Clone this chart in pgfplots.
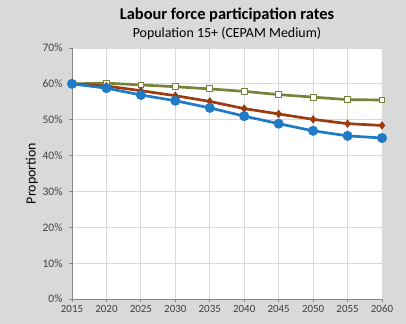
\documentclass[border=0pt]{standalone}
\usepackage{pgfplots}
\pgfplotsset{compat=1.18}
\usepackage{fontspec}
\setmainfont{Carlito}
\definecolor{bg}{HTML}{D9D9D9}
\definecolor{grn}{HTML}{76843A}
\definecolor{red}{HTML}{9C3A10}
\definecolor{blu}{HTML}{1F7BC6}
\definecolor{gridc}{HTML}{D9D9D9}
\definecolor{axc}{HTML}{868686}
\definecolor{txt}{HTML}{404040}
\begin{document}
\begin{tikzpicture}
\fill[bg] (-72bp,-25bp) rectangle (334bp,299bp);
\useasboundingbox (-72bp,-25bp) rectangle (334bp,299bp);
\begin{axis}[
  at={(0,0)}, anchor=south west,
  scale only axis, width=310bp, height=251bp,
  xmin=2015, xmax=2060, ymin=0, ymax=70,
  xtick={2015,2020,...,2060}, ytick={0,10,...,70},
  yticklabel={\pgfmathprintnumber{\tick}\%},
  /pgf/number format/assume math mode=true,
  /pgf/number format/1000 sep={},
  axis background/.style={fill=white},
  grid=major, major grid style={gridc, line width=0.8pt},
  axis x line*=bottom, axis y line*=left,
  axis line style={axc, line width=0.8pt},
  tick style={axc, line width=0.8pt},
  tick align=outside, major tick length=3bp,
  xticklabel style={font=\fontsize{11}{13}\selectfont, text=txt},
  yticklabel style={font=\fontsize{11.5}{13}\selectfont, text=txt, xshift=-3bp},
  ylabel={Proportion}, ylabel style={font=\fontsize{14}{16}\selectfont, text=black},
  ylabel shift=-2bp,
  clip=false,
]
\addplot[grn, line width=2.7pt, mark=square*, mark size=2.9pt, mark options={fill=white, line width=1pt}] coordinates {
(2015,60.0)(2020,60.2)(2025,59.7)(2030,59.2)(2035,58.6)(2040,57.9)(2045,57.0)(2050,56.3)(2055,55.6)(2060,55.5)};
\addplot[red, line width=2.7pt, mark=diamond*, mark size=3.9pt, mark options={line width=0.5pt}] coordinates {
(2015,60.0)(2020,59.4)(2025,58.1)(2030,56.7)(2035,55.1)(2040,53.1)(2045,51.6)(2050,50.1)(2055,48.9)(2060,48.4)};
\addplot[blu, line width=2.7pt, mark=*, mark size=3.6pt] coordinates {
(2015,60.0)(2020,58.8)(2025,56.9)(2030,55.3)(2035,53.3)(2040,51.0)(2045,48.9)(2050,46.9)(2055,45.5)(2060,44.9)};
\node[font=\bfseries\fontsize{16.5}{18}\selectfont] at (rel axis cs:0.5,1) [yshift=33bp] {Labour force participation rates};
\node[font=\fontsize{14}{16}\selectfont] at (rel axis cs:0.5,1) [yshift=14bp] {Population 15+ (CEPAM Medium)};
\end{axis}
\end{tikzpicture}
\end{document}
